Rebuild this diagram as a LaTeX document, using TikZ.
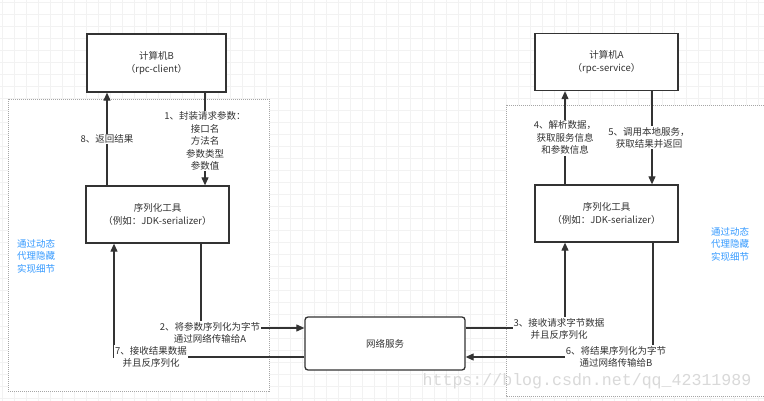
\documentclass[tikz,border=0pt]{standalone}
\usepackage{fontspec}
\setmainfont{Noto Sans CJK SC}
\newfontfamily\wmfont{Liberation Mono}
\usetikzlibrary{arrows.meta, positioning}
\definecolor{linegray}{HTML}{333333}
\definecolor{hintblue}{HTML}{3399FF}
\tikzset{
  box/.style={draw=linegray, line width=1.3pt, fill=white, minimum height=57pt, minimum width=143pt,
    align=center, text=linegray, font=\fontsize{9.5}{12.5}\selectfont},
  netbox/.style={box, rounded corners=3pt, minimum width=160pt, minimum height=53pt},
  arr/.style={-{Triangle[length=8pt, width=7pt]}, line width=1.1pt, draw=linegray},
  lbl/.style={fill=white, inner sep=1pt, align=center, text=linegray, font=\fontsize{9.5}{12.5}\selectfont},
  region/.style={draw=gray!70, dash pattern=on 1pt off 1pt, fill=white},
  hint/.style={text=hintblue, align=left, anchor=north west, inner sep=0pt, font=\fontsize{9.5}{12.5}\selectfont},
  gridline/.style={draw=gray!10, line width=0.5pt},
}

\begin{document}
\begin{tikzpicture}[x=1pt, y=-1pt]
    \useasboundingbox[fill=white] (0,0) rectangle (764,401);
    % background grid
    \foreach \gx in {2,14,...,764} \draw[gridline] (\gx,0) -- (\gx,401);
    \foreach \gy in {2,14,...,401} \draw[gridline] (0,\gy) -- (764,\gy);

    % proxy regions
    \draw[region] (8,99) rectangle (269,391);
    \draw[region] (506,105) rectangle (770,396);
    \node[hint] (hintB) at (17,239) {通过动态\\代理隐藏\\实现细节};
    \node[hint] (hintA) at (711,227) {通过动态\\代理隐藏\\实现细节};

    % machines
    \node[box, minimum width=139pt, minimum height=58pt] (compB) at (156.5,63) {计算机B\\（rpc-client）};
    \node[box] (compA) at (606.5,62) {计算机A\\（rpc-service）};
    \node[box] (serB) at (157.5,214.5) {序列化工具\\（例如：JDK-serializer）};
    \node[box] (serA) at (606.5,213.5) {序列化工具\\（例如：JDK-serializer）};
    \node[netbox] (net) at (385,343.5) {网络服务};

    % client side
    \draw[arr] ([xshift=48.5pt]compB.south) -- node[lbl, yshift=-2pt] {1、封装请求参数：\\接口名\\方法名\\参数类型\\参数值} ([xshift=47.5pt]serB.north);
    \draw[arr] ([xshift=43.5pt]serB.south) |- node[lbl, xshift=9pt, yshift=-5pt] {2、将参数序列化为字节\\通过网络传输给A} ([yshift=15.5pt]net.west);
    \draw[arr] ([yshift=-13.5pt]net.west) -| node[lbl, pos=0.5, xshift=37pt] {7、接收结果数据\\并且反序列化} ([xshift=-43.5pt]serB.south);
    \draw[arr] ([xshift=-50.5pt]serB.north) -- node[lbl] {8、返回结果} ([xshift=-49.5pt]compB.south);

    % service side
    \draw[arr] ([yshift=15.5pt]net.east) -| node[lbl, pos=0.5, xshift=-6pt, yshift=-1pt] {3、接收请求字节数据\\并且反序列化} ([xshift=-41.5pt]serA.south);
    \draw[arr] ([xshift=-41.5pt]serA.north) -- node[lbl] {4、解析数据，\\获取服务信息\\和参数信息} ([xshift=-41.5pt]compA.south);
    \draw[arr] ([xshift=45.5pt]compA.south) -- node[lbl, xshift=-3pt] {5、调用本地服务，\\获取结果并返回} ([xshift=45.5pt]serA.north);
    \draw[arr] ([xshift=46.5pt]serA.south) |- node[lbl, xshift=-37pt] {6、将结果序列化为字节\\通过网络传输给B} ([yshift=-13.5pt]net.east);

    \node[text=gray!30, font=\wmfont\fontsize{16.6}{17}\selectfont] (mark) at (587,381) {https://blog.csdn.net/qq\_42311989};
\end{tikzpicture}
\end{document}
